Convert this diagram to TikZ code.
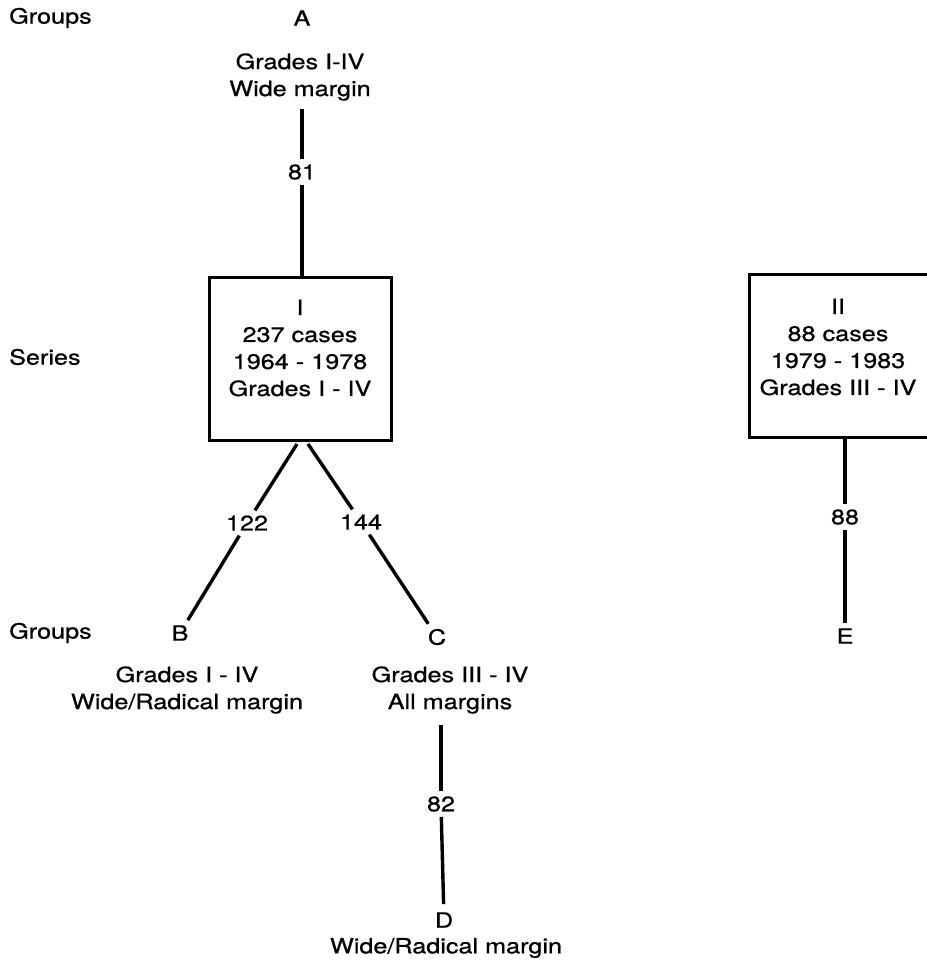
\documentclass[tikz,border=0pt]{standalone}
\usepackage{fontspec}
\setmainfont{TeX Gyre Heros}[FakeStretch=1.2,FakeBold=0.8]
\begin{document}
\begin{tikzpicture}[x=1pt,y=-1pt,
  txt/.style={font=\fontsize{21}{27}\selectfont, align=center, inner sep=3pt},
  lbl/.style={font=\fontsize{21}{27}\selectfont, inner sep=5pt},
  conn/.style={line width=3.4pt},
  boxstyle/.style={draw, line width=3.4pt, minimum height=163pt, inner sep=0pt}]
\useasboundingbox (0,0) rectangle (926,965);

% row labels
\node[txt, anchor=west] (g1) at (6,18) {Groups};
\node[txt, anchor=west] (s1) at (6,357) {Series};
\node[txt, anchor=west] (g2) at (6,633) {Groups};

% group A
\node[lbl] (A) at (302,18) {A};
\node[txt] (Atext) at (300,77) {Grades I-IV\\Wide margin};
\node[lbl] (n81) at (302,172) {81};

% series I
\node[boxstyle, minimum width=182pt] (boxI) at (300.5,359) {};
\node[txt] (tI) at (300,348) {I\\237 cases\\1964 - 1978\\Grades I - IV};

% series II (its right side runs off the page)
\node[boxstyle, minimum width=210pt] (boxII) at (854.5,356) {};
\node[txt] (tII) at (838,347) {II\\88 cases\\1979 - 1983\\Grades III - IV};

% branches from I
\coordinate (bl) at (297,444);
\coordinate (br) at (308,444);
\node[lbl] (n122) at (247,523) {122};
\node[lbl] (n144) at (361,522) {144};
\node[lbl] (B) at (180,633) {B};
\node[lbl] (C) at (437,637) {C};
\node[txt] (Btext) at (187,690) {Grades I - IV\\Wide/Radical margin};
\node[txt] (Ctext) at (450,690) {Grades III - IV\\All margins};
\node[lbl] (n82) at (441,804) {82};
\node[lbl, inner sep=8pt] (D) at (444,920) {D};
\node[txt] (Dtext) at (446,948) {Wide/Radical margin};

% branch from II
\node[lbl] (n88) at (845,517) {88};
\node[lbl] (E) at (845,636) {E};

% connectors
\draw[conn] (Atext.south -| n81) ++(0,5) -- (n81);
\draw[conn] (n81) -- (n81 |- boxI.north);
\draw[conn] (bl) -- (n122);
\draw[conn] (n122) -- (B);
\draw[conn] (br) -- (n144);
\draw[conn] (n144) -- (C);
\draw[conn] (Ctext.south -| n82) ++(0,8) -- (n82);
\draw[conn] (n82) -- (D);
\draw[conn] (boxII.south -| n88) -- (n88);
\draw[conn] (n88) -- (E);
\end{tikzpicture}
\end{document}
